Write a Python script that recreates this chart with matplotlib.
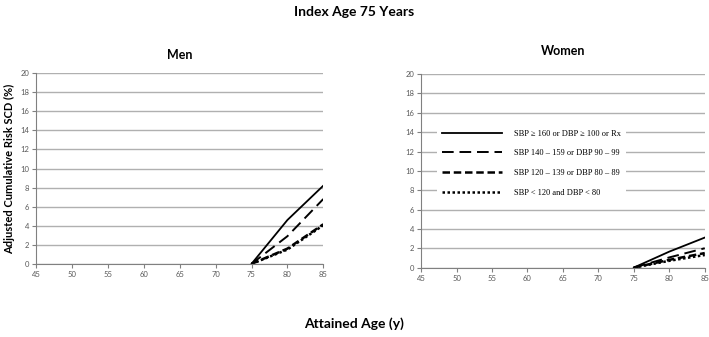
import matplotlib.pyplot as plt

plt.rcParams['font.family'] = ['Lato', 'DejaVu Sans']

ages = [75, 80, 85]

# Men
men_ge160 = [0, 4.6, 8.2]
men_140_159 = [0, 2.9, 6.8]
men_120_139 = [0, 1.6, 4.15]
men_lt120 = [0, 1.5, 4.05]

# Women
women_ge160 = [0, 1.65, 3.1]
women_140_159 = [0, 1.05, 2.0]
women_120_139 = [0, 0.8, 1.5]
women_lt120 = [0, 0.7, 1.3]

labels = ['SBP \u2265 160 or DBP \u2265 100 or Rx',
          'SBP 140 \u2013 159 or DBP 90 \u2013 99',
          'SBP 120 \u2013 139 or DBP 80 \u2013 89',
          'SBP < 120 and DBP < 80']
styles = [dict(linestyle='-', linewidth=1.3),
          dict(linestyle=(0, (6, 3)), linewidth=1.4),
          dict(linestyle=(0, (3, 1.5)), linewidth=1.8),
          dict(linestyle=(0, (1, 1)), linewidth=1.8)]

fig = plt.figure(figsize=(7.09, 3.37), dpi=100)
ax1 = fig.add_axes([0.051, 0.217, 0.405, 0.566])
ax2 = fig.add_axes([0.594, 0.206, 0.400, 0.574])

panels = [(ax1, 'Men', 10, [men_ge160, men_140_159, men_120_139, men_lt120]),
          (ax2, 'Women', 14, [women_ge160, women_140_159, women_120_139, women_lt120])]

for ax, title, pad, series in panels:
    for ys, st, lab in zip(series, styles, labels):
        ax.plot(ages, ys, color='black', label=lab, **st)
    ax.set_xlim(45, 85)
    ax.set_ylim(0, 20)
    ax.set_xticks(range(45, 86, 5))
    ax.set_yticks(range(0, 21, 2))
    ax.grid(axis='y', color='#b0b0b0', linewidth=1.0)
    ax.set_axisbelow(True)
    for s in ['top', 'right']:
        ax.spines[s].set_visible(False)
    for s in ['left', 'bottom']:
        ax.spines[s].set_color('#808080')
    ax.tick_params(labelsize=5.5, colors='#808080', labelcolor='#595959',
                   length=3, width=0.8, pad=2)
    ax.set_title(title, fontsize=9, fontweight='bold', pad=pad)

leg = ax2.legend(loc='upper left', bbox_to_anchor=(0.04, 0.76),
                 prop={'family': 'Liberation Serif', 'size': 6},
                 frameon=True, facecolor='white', edgecolor='none', framealpha=1,
                 handlelength=7.2, handletextpad=1.5, labelspacing=1.4,
                 borderpad=0.6, fancybox=False)

ax1.set_ylabel('Adjusted Cumulative Risk SCD (%)', fontsize=8, fontweight='bold', labelpad=4)

fig.text(0.5, 0.965, 'Index Age 75 Years', ha='center', va='center', fontsize=10, fontweight='bold')
fig.text(0.5, 0.04, 'Attained Age (y)', ha='center', va='center', fontsize=10, fontweight='bold')

fig.savefig('out.png', dpi=100)
